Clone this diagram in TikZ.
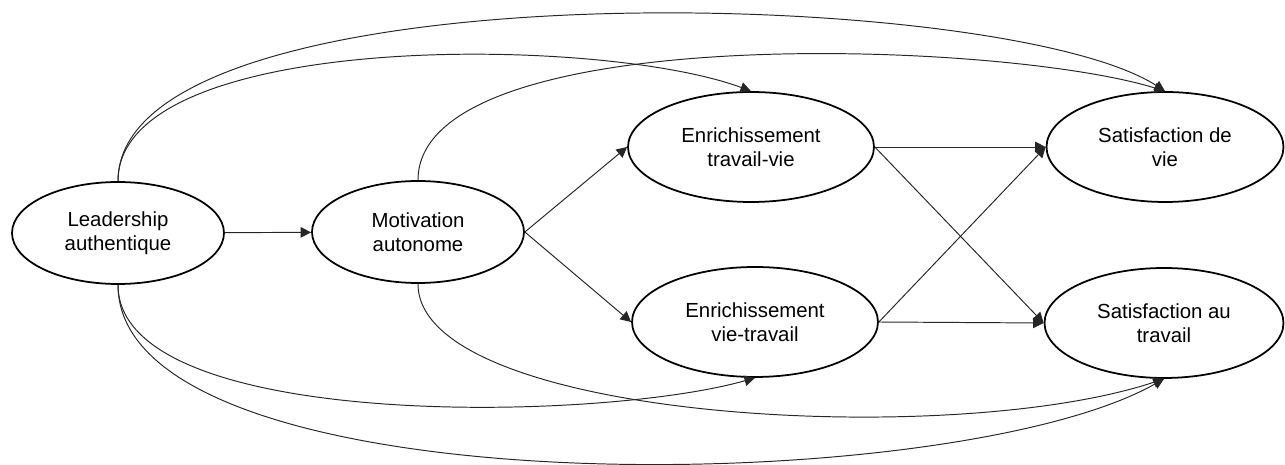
\documentclass[tikz,border=0pt]{standalone}
\usepackage{fontspec}
\setmainfont{Liberation Sans}
\usetikzlibrary{shapes.geometric,arrows.meta}
\tikzset{modele/.style={x=0.02cm,y=-0.02cm,font=\fontsize{11.6}{13.8}\selectfont}}
\tikzset{var/.style={ellipse,draw,line width=1pt,align=center,inner sep=0pt,
                     minimum width=4.3cm,minimum height=2.2cm},
         vars/.style={var,minimum width=4.92cm},
         lien/.style={black!85,line width=0.55pt,-{Triangle[length=6pt,width=6pt]}}}

\begin{document}
\begin{tikzpicture}[modele]
    \useasboundingbox (0,0) rectangle (1285,465);
    \node[var,minimum width=4.24cm,minimum height=2.04cm] (lead) at (118,233) {Leadership\\authentique};
    \node[var,minimum width=4.24cm,minimum height=2.04cm] (motiv) at (418,232) {Motivation\\autonome};
    \node[vars] (etv) at (751,147) {Enrichissement\\travail-vie};
    \node[vars] (evt) at (755,322) {Enrichissement\\vie-travail};
    \node[var,minimum width=4.74cm] (sv) at (1165,147) {Satisfaction de\\vie};
    \node[var,minimum width=4.78cm] (sat) at (1164,323) {Satisfaction au\\travail};
    % liens directs
    \draw[lien] (lead) -- (motiv);
    \draw[lien] (motiv.east) -- (etv.west);
    \draw[lien] (motiv.east) -- (evt.west);
    \draw[lien] (etv.east) -- (sv.west);
    \draw[lien] (etv.east) -- (sat.west);
    \draw[lien] (evt.east) -- (sv.west);
    \draw[lien] (evt.east) -- (sat.west);
    % liens courbes (haut)
    \draw[lien] (lead.north) .. controls (118,-35) and (1000,-15) .. (sv.north);
    \draw[lien] (lead.north) .. controls (118,30) and (600,35) .. (etv.north);
    \draw[lien] (motiv.north) .. controls (418,20) and (1000,40) .. (sv.north);
    % liens courbes (bas)
    \draw[lien] (lead.south) .. controls (118,432) and (600,422) .. (evt.south);
    \draw[lien] (lead.south) .. controls (118,510) and (950,500) .. (sat.south);
    \draw[lien] (motiv.south) .. controls (418,420) and (950,450) .. (sat.south);
\end{tikzpicture}
\end{document}
